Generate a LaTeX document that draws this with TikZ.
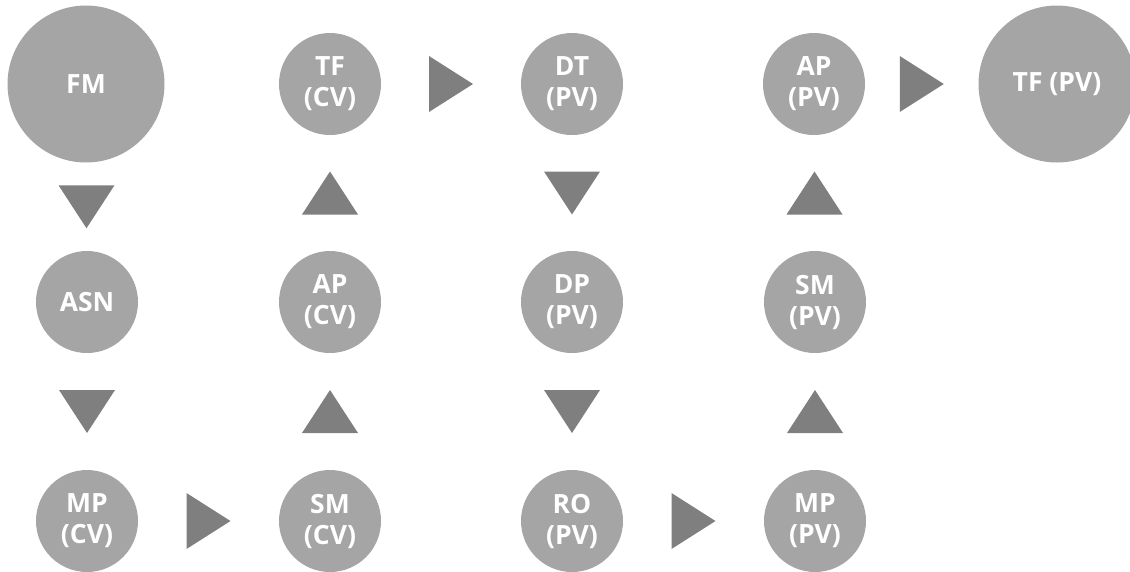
\documentclass[tikz,border=0pt]{standalone}
\usepackage{fontspec}
\setmainfont{Open Sans}
\definecolor{stageGray}{HTML}{A5A5A5}
\definecolor{arrowGray}{HTML}{7F7F7F}
\usetikzlibrary{calc}

\begin{document}
\begin{tikzpicture}[x=1pt, y=-1pt]
    \tikzset{
        stage/.style={circle, fill=stageGray, text=white, inner sep=0pt, minimum size=102pt,
            align=center, font=\fontsize{26.5}{31}\selectfont\bfseries},
        bigstage/.style={stage, minimum size=157pt},
        tri/.style={fill=arrowGray},
    }
    \useasboundingbox (0,0) rectangle (1130,571);

    % CV stages
    \node[bigstage] (fm) at (86,84) {FM};
    \node[stage] (asn) at (87,302) {ASN};
    \node[stage] (mpcv) at (87,521) {MP\\(CV)};
    \node[stage] (smcv) at (330,521) {SM\\(CV)};
    \node[stage] (apcv) at (330,302) {AP\\(CV)};
    \node[stage] (tfcv) at (330,84) {TF\\(CV)};

    % PV stages
    \node[stage] (dtpv) at (572,84) {DT\\(PV)};
    \node[stage] (dppv) at (572,302) {DP\\(PV)};
    \node[stage] (ropv) at (572,521) {RO\\(PV)};
    \node[stage] (mppv) at (815,521) {MP\\(PV)};
    \node[stage] (smpv) at (815,302) {SM\\(PV)};
    \node[stage] (appv) at (814,84) {AP\\(PV)};
    \node[bigstage] (tfpv) at (1057,84) {TF (PV)};

    % Down arrows
    \coordinate (d1) at ($(fm.south)!0.5!(asn.north)$);
    \fill[tri] (d1) +(-28,-21.5) -- +(28,-21.5) -- +(0,21.5) -- cycle;
    \coordinate (d2) at ($(asn.south)!0.5!(mpcv.north)$);
    \fill[tri] (d2) +(-28,-21.5) -- +(28,-21.5) -- +(0,21.5) -- cycle;
    \coordinate (d3) at ($(dtpv.south)!0.5!(dppv.north)$);
    \fill[tri] (d3) +(-28,-21.5) -- +(28,-21.5) -- +(0,21.5) -- cycle;
    \coordinate (d4) at ($(dppv.south)!0.5!(ropv.north)$);
    \fill[tri] (d4) +(-28,-21.5) -- +(28,-21.5) -- +(0,21.5) -- cycle;

    % Up arrows
    \coordinate (u1) at ($(smcv.north)!0.5!(apcv.south)$);
    \fill[tri] (u1) +(-28,21.5) -- +(28,21.5) -- +(0,-21.5) -- cycle;
    \coordinate (u2) at ($(apcv.north)!0.5!(tfcv.south)$);
    \fill[tri] (u2) +(-28,21.5) -- +(28,21.5) -- +(0,-21.5) -- cycle;
    \coordinate (u3) at ($(mppv.north)!0.5!(smpv.south)$);
    \fill[tri] (u3) +(-28,21.5) -- +(28,21.5) -- +(0,-21.5) -- cycle;
    \coordinate (u4) at ($(smpv.north)!0.5!(appv.south)$);
    \fill[tri] (u4) +(-28,21.5) -- +(28,21.5) -- +(0,-21.5) -- cycle;

    % Right arrows
    \coordinate (r1) at ($(mpcv.east)!0.5!(smcv.west)$);
    \fill[tri] (r1) +(-22,-28) -- +(22,0) -- +(-22,28) -- cycle;
    \coordinate (r2) at ($(tfcv.east)!0.5!(dtpv.west)$);
    \fill[tri] (r2) +(-22,-28) -- +(22,0) -- +(-22,28) -- cycle;
    \coordinate (r3) at ($(ropv.east)!0.5!(mppv.west)$);
    \fill[tri] (r3) +(-22,-28) -- +(22,0) -- +(-22,28) -- cycle;
    \coordinate (r4) at ($(appv.east)!0.5!(tfpv.west)$);
    \fill[tri] (r4) +(-22,-28) -- +(22,0) -- +(-22,28) -- cycle;
\end{tikzpicture}
\end{document}
